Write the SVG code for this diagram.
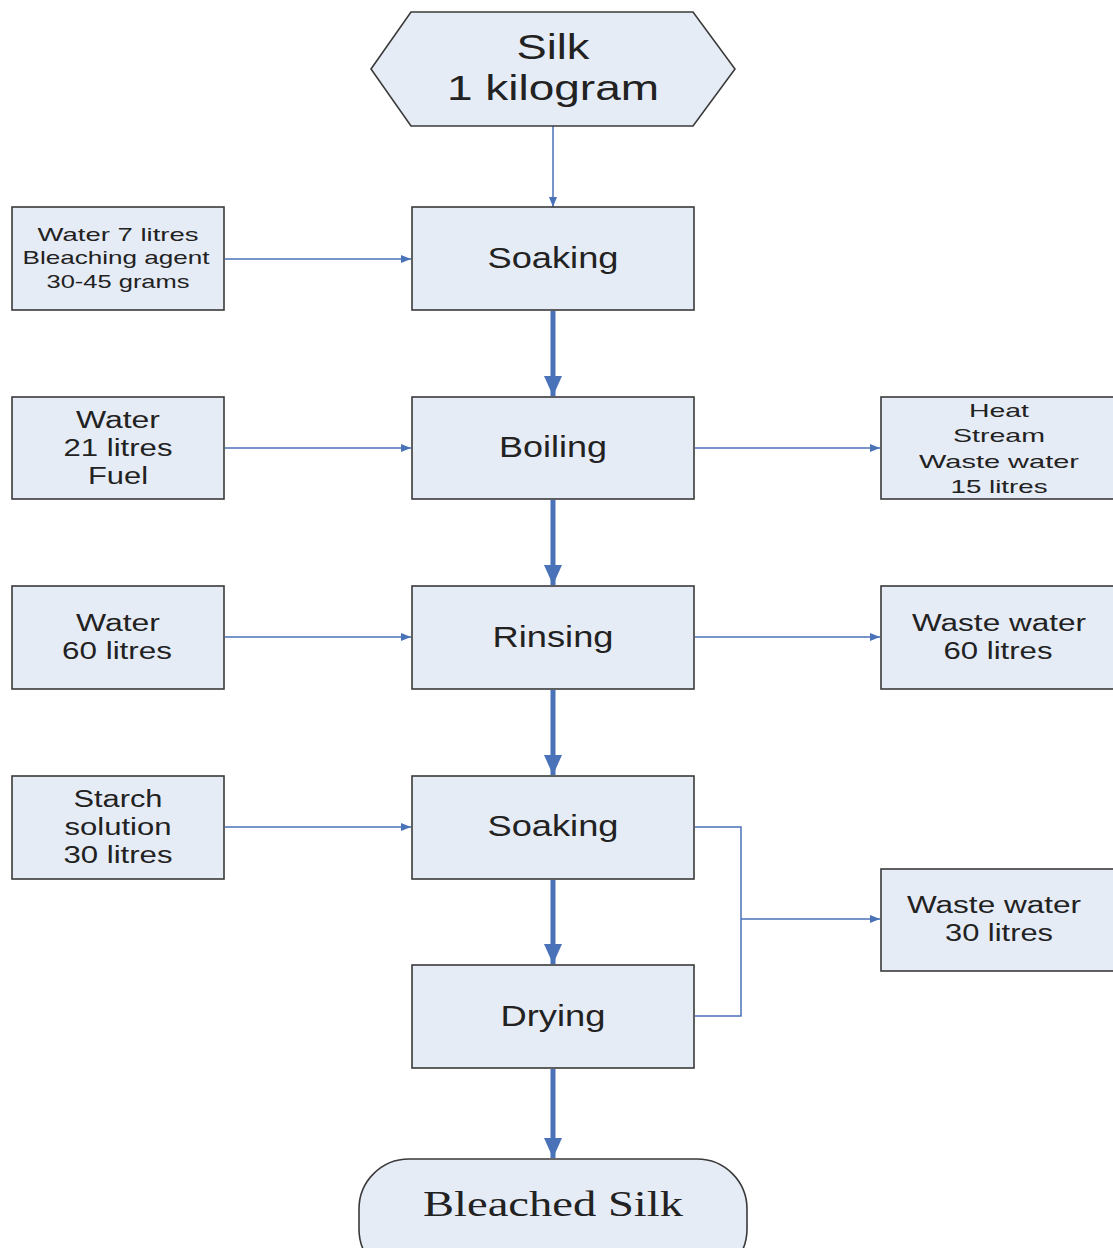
<svg xmlns="http://www.w3.org/2000/svg" width="1113" height="1248" viewBox="0 0 1113 1248">
  <style>
    .box { fill: #e6ecf6; stroke: #3a3a3a; stroke-width: 1.6; }
    .t { font-family: "Liberation Sans", Arial, sans-serif; fill: #222222; text-anchor: middle; }
    .serif { font-family: "Liberation Serif", "Times New Roman", serif; }
    .main { font-size: 30px; }
    .side { font-size: 23px; }
    .small { font-size: 19px; }
    .thin { stroke: #4a72b8; stroke-width: 1.5; fill: none; }
    .thick { stroke: #4a72b8; stroke-width: 5; fill: none; }
  </style>
  <defs>
    <marker id="ah" markerWidth="10" markerHeight="8" refX="10" refY="4" orient="auto" markerUnits="userSpaceOnUse">
      <path d="M0,0 L10,4 L0,8 Z" fill="#4a72b8"/>
    </marker>
    <marker id="ahb" markerWidth="22" markerHeight="18" refX="20" refY="9" orient="auto" markerUnits="userSpaceOnUse">
      <path d="M0,0 L20,9 L0,18 Z" fill="#4a72b8"/>
    </marker>
  </defs>

  <rect width="1113" height="1248" fill="#ffffff"/>

  <!-- connectors -->
  <g id="connectors">
    <line class="thin" x1="553" y1="126" x2="553" y2="207" marker-end="url(#ah)"/>
    <line class="thick" x1="553" y1="311" x2="553" y2="396" marker-end="url(#ahb)"/>
    <line class="thick" x1="553" y1="500" x2="553" y2="585" marker-end="url(#ahb)"/>
    <line class="thick" x1="553" y1="690" x2="553" y2="775" marker-end="url(#ahb)"/>
    <line class="thick" x1="553" y1="880" x2="553" y2="964" marker-end="url(#ahb)"/>
    <line class="thick" x1="553" y1="1069" x2="553" y2="1158" marker-end="url(#ahb)"/>
    <line class="thin" x1="225" y1="259" x2="411" y2="259" marker-end="url(#ah)"/>
    <line class="thin" x1="225" y1="448" x2="411" y2="448" marker-end="url(#ah)"/>
    <line class="thin" x1="225" y1="637" x2="411" y2="637" marker-end="url(#ah)"/>
    <line class="thin" x1="225" y1="827" x2="411" y2="827" marker-end="url(#ah)"/>
    <line class="thin" x1="695" y1="448" x2="880" y2="448" marker-end="url(#ah)"/>
    <line class="thin" x1="695" y1="637" x2="880" y2="637" marker-end="url(#ah)"/>
    <polyline class="thin" points="695,827 741,827 741,1016 695,1016"/>
    <line class="thin" x1="741" y1="919" x2="880" y2="919" marker-end="url(#ah)"/>
  </g>

  <!-- start -->
  <g id="silk">
    <polygon class="box" points="371,69 411,12 693,12 735,69 693,126 411,126"/>
    <text class="t" x="553" y="59" font-size="35" textLength="73" lengthAdjust="spacingAndGlyphs">Silk</text>
    <text class="t" x="553" y="100" font-size="35" textLength="212" lengthAdjust="spacingAndGlyphs">1 kilogram</text>
  </g>

  <!-- process steps -->
  <g id="soaking1">
    <rect class="box" x="412" y="207" width="282" height="103"/>
    <text class="t main" x="553" y="268" textLength="131" lengthAdjust="spacingAndGlyphs">Soaking</text>
  </g>
  <g id="boiling">
    <rect class="box" x="412" y="397" width="282" height="102"/>
    <text class="t main" x="553" y="457" textLength="108" lengthAdjust="spacingAndGlyphs">Boiling</text>
  </g>
  <g id="rinsing">
    <rect class="box" x="412" y="586" width="282" height="103"/>
    <text class="t main" x="553" y="647" textLength="121" lengthAdjust="spacingAndGlyphs">Rinsing</text>
  </g>
  <g id="soaking2">
    <rect class="box" x="412" y="776" width="282" height="103"/>
    <text class="t main" x="553" y="836" textLength="131" lengthAdjust="spacingAndGlyphs">Soaking</text>
  </g>
  <g id="drying">
    <rect class="box" x="412" y="965" width="282" height="103"/>
    <text class="t main" x="553" y="1026" textLength="105" lengthAdjust="spacingAndGlyphs">Drying</text>
  </g>

  <!-- inputs -->
  <g id="in-soaking1">
    <rect class="box" x="12" y="207" width="212" height="103"/>
    <text class="t small" x="118" y="241" textLength="161" lengthAdjust="spacingAndGlyphs">Water  7 litres</text>
    <text class="t small" x="116" y="264" textLength="187" lengthAdjust="spacingAndGlyphs">Bleaching agent</text>
    <text class="t small" x="118" y="288" textLength="143" lengthAdjust="spacingAndGlyphs">30-45 grams</text>
  </g>
  <g id="in-boiling">
    <rect class="box" x="12" y="397" width="212" height="102"/>
    <text class="t side" x="118" y="428" textLength="84" lengthAdjust="spacingAndGlyphs">Water</text>
    <text class="t side" x="118" y="456" textLength="109" lengthAdjust="spacingAndGlyphs">21 litres</text>
    <text class="t side" x="118" y="484" textLength="60" lengthAdjust="spacingAndGlyphs">Fuel</text>
  </g>
  <g id="in-rinsing">
    <rect class="box" x="12" y="586" width="212" height="103"/>
    <text class="t side" x="118" y="631" textLength="84" lengthAdjust="spacingAndGlyphs">Water</text>
    <text class="t side" x="117" y="659" textLength="110" lengthAdjust="spacingAndGlyphs">60 litres</text>
  </g>
  <g id="in-soaking2">
    <rect class="box" x="12" y="776" width="212" height="103"/>
    <text class="t side" x="118" y="807" textLength="89" lengthAdjust="spacingAndGlyphs">Starch</text>
    <text class="t side" x="118" y="835" textLength="107" lengthAdjust="spacingAndGlyphs">solution</text>
    <text class="t side" x="118" y="863" textLength="109" lengthAdjust="spacingAndGlyphs">30 litres</text>
  </g>

  <!-- outputs -->
  <g id="out-boiling">
    <rect class="box" x="881" y="397" width="240" height="102"/>
    <text class="t small" x="999" y="417" textLength="60" lengthAdjust="spacingAndGlyphs">Heat</text>
    <text class="t small" x="999" y="442" textLength="92" lengthAdjust="spacingAndGlyphs">Stream</text>
    <text class="t small" x="999" y="468" textLength="160" lengthAdjust="spacingAndGlyphs">Waste water</text>
    <text class="t small" x="999" y="493" textLength="97" lengthAdjust="spacingAndGlyphs">15 litres</text>
  </g>
  <g id="out-rinsing">
    <rect class="box" x="881" y="586" width="240" height="103"/>
    <text class="t side" x="999" y="631" textLength="174" lengthAdjust="spacingAndGlyphs">Waste water</text>
    <text class="t side" x="998" y="659" textLength="109" lengthAdjust="spacingAndGlyphs">60 litres</text>
  </g>
  <g id="out-soaking-drying">
    <rect class="box" x="881" y="869" width="240" height="102"/>
    <text class="t side" x="994" y="913" textLength="174" lengthAdjust="spacingAndGlyphs">Waste water</text>
    <text class="t side" x="999" y="941" textLength="108" lengthAdjust="spacingAndGlyphs">30 litres</text>
  </g>

  <!-- end -->
  <g id="bleached">
    <rect class="box" x="359" y="1159" width="388" height="120" rx="50" ry="50"/>
    <text class="t serif" x="553" y="1216" font-size="36" textLength="260" lengthAdjust="spacingAndGlyphs">Bleached Silk</text>
  </g>
</svg>
